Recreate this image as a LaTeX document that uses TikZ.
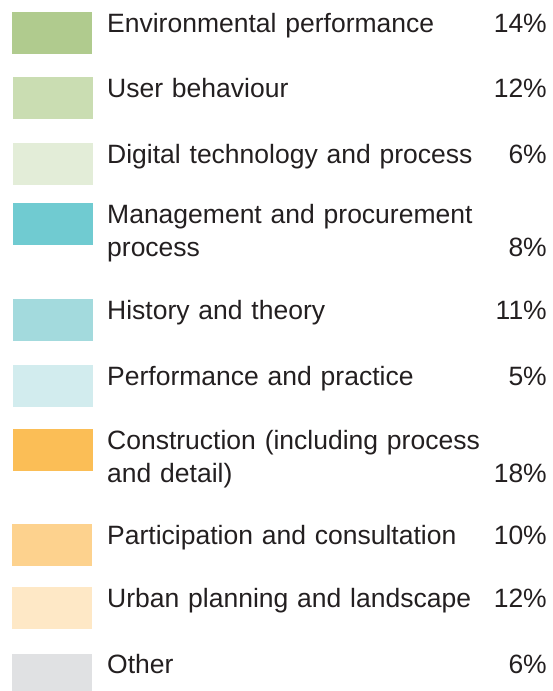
\documentclass[tikz,border=0pt]{standalone}
\usepackage{fontspec}
\setmainfont{Liberation Sans}
\usepackage{tikz}
\usetikzlibrary{positioning}

\definecolor{ink}{HTML}{231F20}
\definecolor{envgreen}{HTML}{B0CB8E}
\definecolor{usergreen}{HTML}{CADDB2}
\definecolor{digigreen}{HTML}{E3EDD8}
\definecolor{mgmtteal}{HTML}{70CBD1}
\definecolor{histteal}{HTML}{A3DADD}
\definecolor{perfteal}{HTML}{D2ECEE}
\definecolor{consorange}{HTML}{FBBE56}
\definecolor{partorange}{HTML}{FDD28E}
\definecolor{urbanorange}{HTML}{FEE8C6}
\definecolor{othergrey}{HTML}{E0E1E3}

\begin{document}
\begin{tikzpicture}[x=1pt,y=-1pt]
	\tikzstyle{swatch} = [rectangle, inner sep=0pt, minimum width=80pt, minimum height=42pt, anchor=north west]
	\tikzstyle{entry} = [inner sep=0pt, anchor=base west, text width=420pt, align=left, text=ink, font=\fontsize{26.5}{33}\selectfont]
	\tikzstyle{share} = [inner sep=0pt, anchor=base east, text=ink, font=\fontsize{26.5}{33}\selectfont]

	\useasboundingbox (0,0) rectangle (552,691);

	\node [swatch, fill=envgreen] (env) at (12,12) {};
	\node [entry] (envtext) at (107,32) {Environmental performance};
	\node [share] (envpc) at (547,32) {14\%};

	\node [swatch, fill=usergreen] (user) at (13,77) {};
	\node [entry] (usertext) at (107,97) {User behaviour};
	\node [share] (userpc) at (547,97) {12\%};

	\node [swatch, fill=digigreen] (digi) at (13,143) {};
	\node [entry] (digitext) at (107,163) {Digital technology and process};
	\node [share] (digipc) at (547,163) {6\%};

	\node [swatch, fill=mgmtteal] (mgmt) at (13,203) {};
	\node [entry] (mgmttext) at (107,223) {Management and procurement\\process};
	\node [share] (mgmtpc) at (547,256) {8\%};

	\node [swatch, fill=histteal] (hist) at (13,299) {};
	\node [entry] (histtext) at (107,319) {History and theory};
	\node [share] (histpc) at (547,319) {11\%};

	\node [swatch, fill=perfteal] (perf) at (13,365) {};
	\node [entry] (perftext) at (107,385) {Performance and practice};
	\node [share] (perfpc) at (547,385) {5\%};

	\node [swatch, fill=consorange] (cons) at (13,429) {};
	\node [entry] (constext) at (107,449) {Construction (including process\\and detail)};
	\node [share] (conspc) at (547,482) {18\%};

	\node [swatch, fill=partorange] (part) at (12,524) {};
	\node [entry] (parttext) at (107,544) {Participation and consultation};
	\node [share] (partpc) at (547,544) {10\%};

	\node [swatch, fill=urbanorange] (urban) at (12,587) {};
	\node [entry] (urbantext) at (107,607) {Urban planning and landscape};
	\node [share] (urbanpc) at (547,607) {12\%};

	\node [swatch, fill=othergrey, minimum height=37pt] (other) at (12,654) {};
	\node [entry] (othertext) at (107,673) {Other};
	\node [share] (otherpc) at (547,673) {6\%};
\end{tikzpicture}
\end{document}
